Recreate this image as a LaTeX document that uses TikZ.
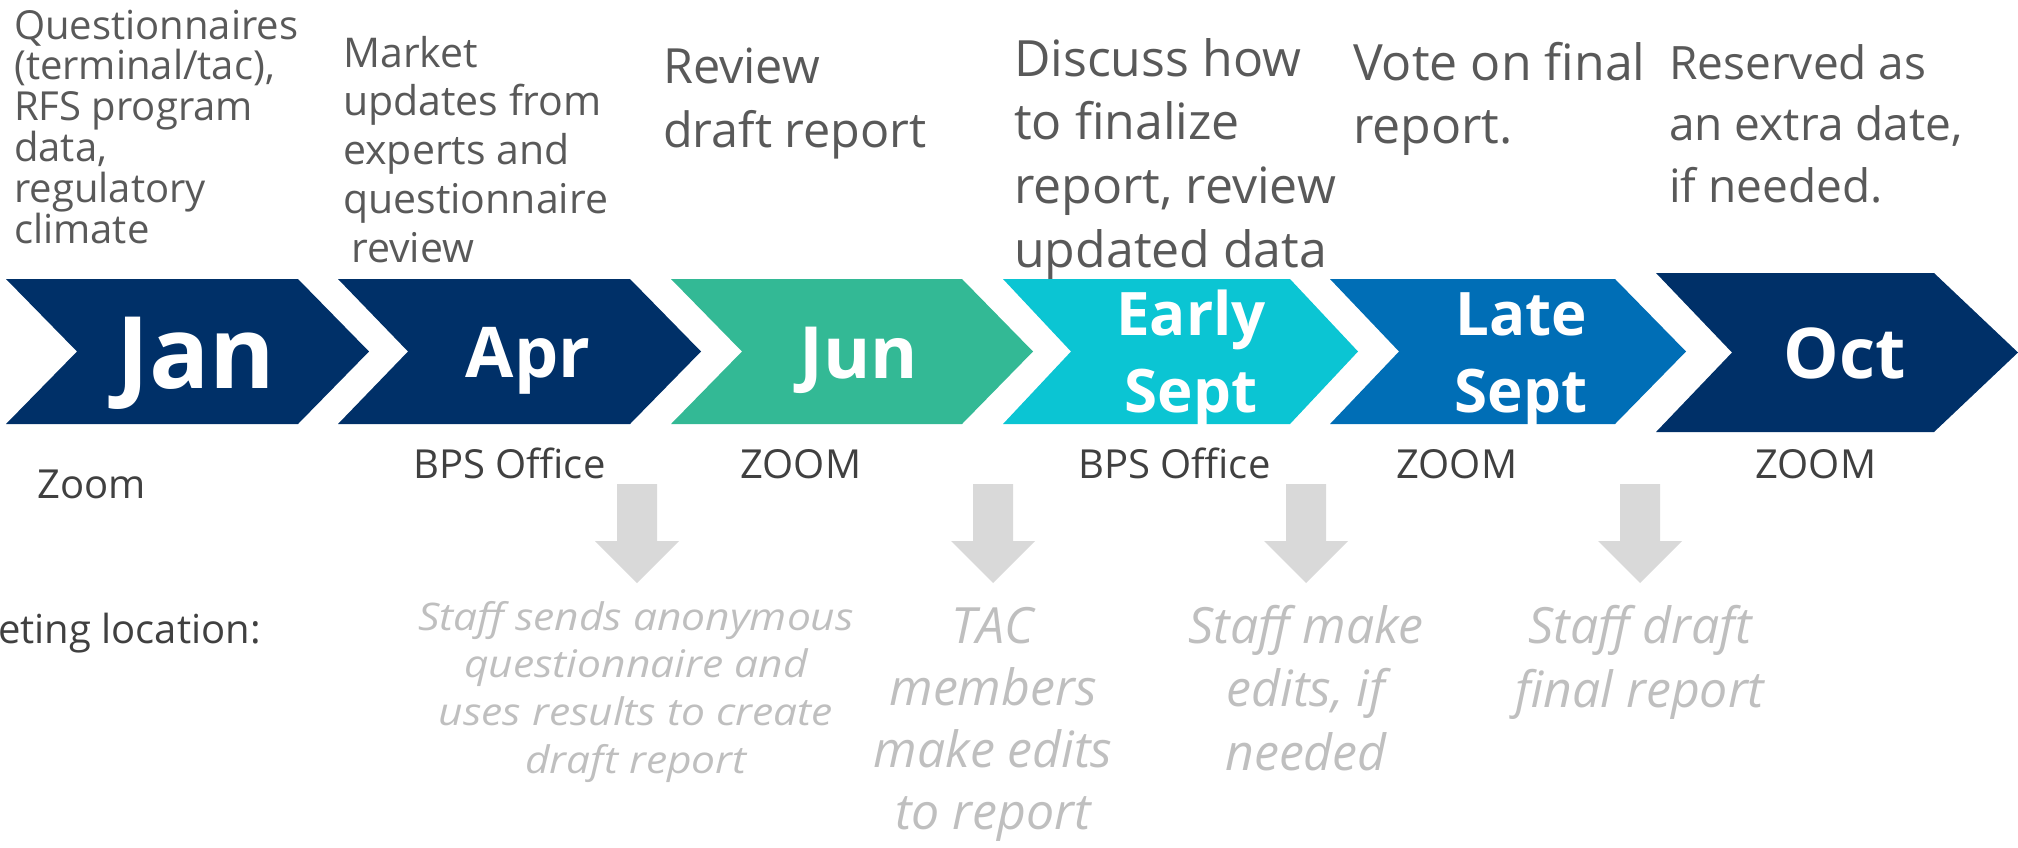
\documentclass[tikz,border=0pt]{standalone}
\usepackage{fontspec}
\setmainfont{Open Sans}
\newfontfamily\wideit[FakeStretch=1.12]{Open Sans}
\definecolor{navy}{HTML}{003068}
\definecolor{teal}{HTML}{33B995}
\definecolor{cyanc}{HTML}{0BC5D3}
\definecolor{bluec}{HTML}{006EB6}
\definecolor{arrowgrey}{HTML}{D9D9D9}
\definecolor{notegrey}{HTML}{BFBFBF}
\definecolor{topgrey}{HTML}{595959}
\definecolor{lblgrey}{HTML}{404040}
\newcommand\linesL[1]{\vtop{\lineskiplimit=-1000pt\lineskip=0pt\let\\\cr\halign{##\hfil\cr#1\crcr}}}
\newcommand\linesC[1]{\vtop{\lineskiplimit=-1000pt\lineskip=0pt\let\\\cr\halign{\hfil##\hfil\cr#1\crcr}}}
\newcommand\chev[7]{\fill[#7] (#1,#5) -- (#3,#5) -- (#4,{(#5+#6)/2}) -- (#3,#6) -- (#1,#6) -- (#2,{(#5+#6)/2}) -- cycle;}
\newcommand\garrow[1]{\fill[arrowgrey] ({#1-20},484) -- ({#1+20},484) -- ({#1+20},541) -- ({#1+42},541) -- (#1,583) -- ({#1-42},541) -- ({#1-20},541) -- cycle;}
\begin{document}
\begin{tikzpicture}[x=1pt,y=-1pt,
  toptxt/.style={anchor=base west, inner sep=0pt, text=topgrey},
  loclbl/.style={anchor=base west, inner sep=0pt, text=lblgrey, font=\fontsize{40}{48}\selectfont},
  month/.style={anchor=base, inner sep=0pt, text=white},
  note/.style={anchor=base, inner sep=0pt, text=notegrey}]
\useasboundingbox (0,0) rectangle (2018,847);
\clip (0,0) rectangle (2018,847);
% chevrons
\chev{6}{77}{298}{369}{279}{424}{navy}
\chev{338}{408}{630}{701}{279}{424}{navy}
\chev{671}{742}{962}{1033}{279}{424}{teal}
\chev{1003}{1071}{1290}{1358}{279}{424}{cyanc}
\chev{1330}{1399}{1615}{1686}{279}{424}{bluec}
\chev{1656}{1732}{1934}{2018}{273}{432}{navy}
% month labels
\node[month, font=\fontsize{100}{100}\bfseries\selectfont] (jan) at (196,388) {Jan};
\node[month, font=\fontsize{70}{70}\bfseries\selectfont] (apr) at (528,377) {Apr};
\node[month, font=\fontsize{72}{72}\bfseries\selectfont] (jun) at (859,378) {Jun};
\node[month, font=\fontsize{60}{77}\bfseries\selectfont] (esep) at (1191,335) {\linesC{Early\\Sept}};
\node[month, font=\fontsize{60}{77}\bfseries\selectfont] (lsep) at (1521,335) {\linesC{Late\\Sept}};
\node[month, font=\fontsize{70}{70}\bfseries\selectfont] (oct) at (1845,378) {Oct};
% top descriptions
\node[toptxt, font=\fontsize{40}{40.8}\selectfont] (d1) at (14,39) {\linesL{Questionnaires\\(terminal/tac),\\RFS program\\data,\\regulatory\\climate}};
\node[toptxt, font=\fontsize{41}{48.8}\selectfont] (d2) at (343,67) {\linesL{Market\\updates from\\experts and\\questionnaire\\\hspace*{8pt}review}};
\node[toptxt, font=\fontsize{48.5}{64}\selectfont] (d3) at (663,83) {\linesL{Review\\draft report}};
\node[toptxt, font=\fontsize{50}{63.7}\selectfont] (d4) at (1014,76) {\linesL{Discuss how\\to finalize\\report, review\\updated data}};
\node[toptxt, font=\fontsize{50}{63}\selectfont] (d5) at (1353,80) {\linesL{Vote on final\\report.}};
\node[toptxt, font=\fontsize{46}{61.5}\selectfont] (d6) at (1669,79) {\linesL{Reserved as\\an extra date,\\if needed.}};
% meeting locations
\node[loclbl] (l1) at (37,498) {Zoom};
\node[loclbl] (l2) at (413,478) {BPS Office};
\node[loclbl] (l3) at (740,478) {ZOOM};
\node[loclbl] (l4) at (1078,478) {BPS Office};
\node[loclbl] (l5) at (1396,478) {ZOOM};
\node[loclbl] (l6) at (1755,478) {ZOOM};
\node[loclbl, anchor=base east] (ml) at (261,643) {Meeting location:};
% grey arrows
\garrow{637}
\garrow{993}
\garrow{1306}
\garrow{1640}
% staff notes
\node[note, font=\fontsize{38}{47.7}\wideit\itshape\selectfont] (n1) at (636,630) {\linesC{Staff sends anonymous\\questionnaire and\\uses results to create\\draft report}};
\node[note, font=\fontsize{50}{62}\itshape\selectfont] (n2) at (993,643) {\linesC{TAC\\members\\make edits\\to report}};
\node[note, font=\fontsize{50}{63.5}\itshape\selectfont] (n3) at (1306,643) {\linesC{Staff make\\edits, if\\needed}};
\node[note, font=\fontsize{50}{64}\itshape\selectfont] (n4) at (1640,643) {\linesC{Staff draft\\final report}};
\end{tikzpicture}
\end{document}
